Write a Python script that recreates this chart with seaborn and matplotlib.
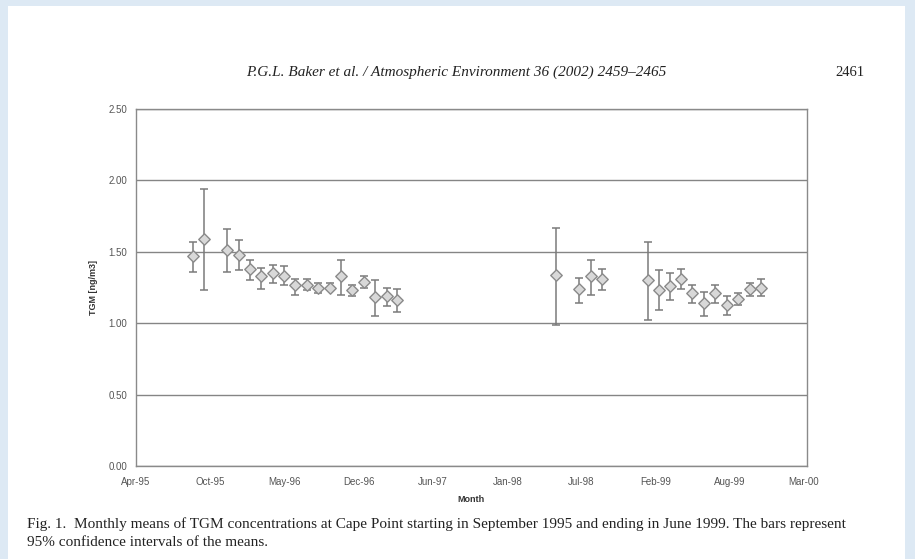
import numpy as np
import pandas as pd
import seaborn as sns
from matplotlib import pyplot as plt
from matplotlib.patches import Rectangle

# Monthly TGM means with 95% confidence limits
months = ['1995-09', '1995-10', '1995-12', '1996-01', '1996-02', '1996-03',
          '1996-04', '1996-05', '1996-06', '1996-07', '1996-08', '1996-09',
          '1996-10', '1996-11', '1996-12', '1997-01', '1997-02', '1997-03',
          '1998-05', '1998-07', '1998-08', '1998-09',
          '1999-01', '1999-02', '1999-03', '1999-04', '1999-05', '1999-06',
          '1999-07', '1999-08', '1999-09', '1999-10', '1999-11']
tgm_mean = [1.47, 1.59, 1.51, 1.48, 1.38, 1.33, 1.35, 1.33, 1.27, 1.27, 1.25,
            1.25, 1.33, 1.23, 1.29, 1.18, 1.19, 1.16,
            1.34, 1.24, 1.33, 1.31,
            1.30, 1.23, 1.26, 1.31, 1.21, 1.14, 1.21, 1.13, 1.17, 1.24, 1.25]
ci_low = [1.36, 1.23, 1.36, 1.37, 1.30, 1.24, 1.28, 1.27, 1.20, 1.23, 1.21,
          1.23, 1.20, 1.19, 1.25, 1.05, 1.12, 1.08,
          0.99, 1.14, 1.20, 1.23,
          1.02, 1.09, 1.16, 1.24, 1.14, 1.05, 1.14, 1.06, 1.13, 1.19, 1.19]
ci_high = [1.57, 1.94, 1.66, 1.58, 1.44, 1.39, 1.41, 1.40, 1.31, 1.31, 1.28,
           1.28, 1.44, 1.27, 1.33, 1.30, 1.25, 1.24,
           1.67, 1.32, 1.44, 1.38,
           1.57, 1.37, 1.35, 1.38, 1.27, 1.22, 1.27, 1.19, 1.21, 1.28, 1.31]

tick_dates = ['1995-04-15', '1995-10-31', '1996-05-17', '1996-12-02', '1997-06-19',
              '1998-01-04', '1998-07-21', '1999-02-05', '1999-08-23', '2000-03-09']
tick_labels = ['Apr-95', 'Oct-95', 'May-96', 'Dec-96', 'Jun-97',
               'Jan-98', 'Jul-98', 'Feb-99', 'Aug-99', 'Mar-00']
y_ticks = [0.0, 0.5, 1.0, 1.5, 2.0, 2.5]

df = pd.DataFrame({'month': pd.to_datetime([m + '-15' for m in months]),
                   'tgm': tgm_mean, 'lo': ci_low, 'hi': ci_high})

sns.set_style('white')
plt.rcParams['font.family'] = ['Liberation Sans', 'DejaVu Sans']

fig = plt.figure(figsize=(9.15, 5.59), dpi=100, facecolor='#dde9f4')
# white page on the light blue viewer background
fig.patches.append(Rectangle((8 / 915, 0), 897 / 915, 553 / 559,
                             transform=fig.transFigure, facecolor='white',
                             edgecolor='none', zorder=-10))

ax = fig.add_axes([136 / 915, (559 - 466) / 559, 671 / 915, 357 / 559])
ax.set_zorder(2)
ax.set_facecolor('white')

grey = '#7a7a7a'
ax.errorbar(df.month, df.tgm,
            yerr=[df.tgm - df.lo, df.hi - df.tgm],
            fmt='none', ecolor=grey, elinewidth=1.1, capsize=3, capthick=1.1, zorder=3)
sns.scatterplot(data=df, x='month', y='tgm', marker='D', s=34,
                color='#d8d8d8', edgecolor='#8a8a8a', linewidth=1.0, ax=ax, zorder=4)

ax.set_xlim(pd.Timestamp(tick_dates[0]), pd.Timestamp(tick_dates[-1]) + pd.Timedelta(days=8))
ax.set_ylim(0, 2.5)
ax.set_xticks(pd.to_datetime(tick_dates))
ax.set_xticklabels(tick_labels)
ax.set_yticks(y_ticks)
ax.set_yticklabels([f'{v:.2f}' for v in y_ticks])
ax.yaxis.grid(True, color='#858585', linewidth=1.0)
ax.set_axisbelow(True)
for side in ['left', 'right', 'top', 'bottom']:
    ax.spines[side].set_color('#8a8a8a')
    ax.spines[side].set_linewidth(1.0)
ax.tick_params(axis='both', direction='out', length=3, width=0.8,
               color='#777777', labelsize=7, labelcolor='#555555')
ax.tick_params(axis='x', pad=5)
ax.set_xlabel('Month', fontsize=6.5, fontweight='bold', color='#333333', labelpad=6)
ax.set_ylabel('TGM [ng/m3]', fontsize=6.5, fontweight='bold', color='#333333', labelpad=7)

serif = ['Liberation Serif', 'DejaVu Serif']
fig.text(456 / 915, 1 - 72 / 559,
         'P.G.L. Baker et al. / Atmospheric Environment 36 (2002) 2459\u20132465',
         ha='center', va='center', fontsize=11, style='italic', family=serif, color='#222222')
fig.text(850 / 915, 1 - 73 / 559, '2461', ha='center', va='center',
         fontsize=10.5, family=serif, color='#222222')
fig.text(27 / 915, 1 - 524 / 559,
         'Fig. 1.  Monthly means of TGM concentrations at Cape Point starting in September 1995 '
         'and ending in June 1999. The bars represent',
         ha='left', va='center', fontsize=11, family=serif, color='#222222')
fig.text(27 / 915, 1 - 543 / 559, '95% confidence intervals of the means.',
         ha='left', va='center', fontsize=11, family=serif, color='#222222')

plt.savefig('out.png', dpi=100, facecolor=fig.get_facecolor())
